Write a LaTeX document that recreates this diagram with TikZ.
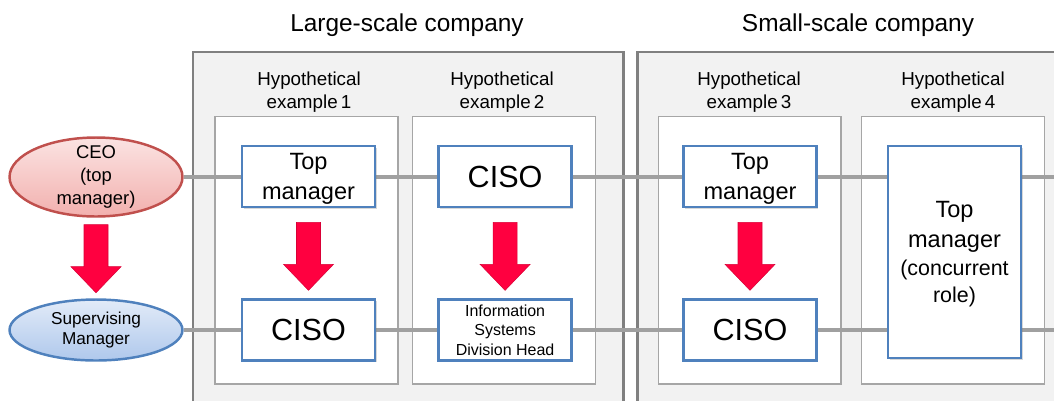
\documentclass[tikz,border=0pt]{standalone}
\usepackage{fontspec}
\setmainfont{Liberation Sans}
\usetikzlibrary{positioning,shapes.geometric,shadows,calc}

\definecolor{boxblue}{HTML}{4F81BD}
\definecolor{ceoedge}{HTML}{C0504D}
\definecolor{ceotop}{HTML}{FBE3E2}
\definecolor{ceobot}{HTML}{F2B0AE}
\definecolor{suptop}{HTML}{E2EBF8}
\definecolor{supbot}{HTML}{AFC8EC}
\definecolor{arrowred}{HTML}{FF0040}
\definecolor{railgray}{HTML}{A0A0A0}
\definecolor{panelfill}{HTML}{F2F2F2}
\definecolor{paneledge}{HTML}{808080}
\definecolor{exedge}{HTML}{A6A6A6}

\tikzset{
	rail/.style={draw=railgray, line width=2pt},
	panel/.style={draw=paneledge, line width=1.7pt, fill=panelfill},
	exbox/.style={draw=exedge, line width=0.6pt, fill=white,
		minimum width=3.66cm, minimum height=5.36cm},
	exlabel/.style={align=center, font=\fontsize{10.7}{13}\selectfont},
	company/.style={font=\fontsize{13.9}{16}\selectfont},
	role/.style={draw=boxblue, line width=1.5pt, fill=white, inner sep=0pt,
		minimum width=2.66cm, minimum height=1.22cm, align=center,
		text depth=0pt, font=\fontsize{13.4}{17}\selectfont,
		drop shadow={shadow xshift=1pt, shadow yshift=-1pt, opacity=0.3}},
	ciso/.style={role, font=\fontsize{17.4}{20}\selectfont},
	person/.style={ellipse, line width=1.4pt, inner xsep=0pt, inner ysep=-6pt,
		align=center, minimum width=3.46cm},
	bigarrow/.style={fill=arrowred, draw=arrowred!85!black, line width=0.3pt}
}

% block arrow pointing down, #1 = top middle of the shaft
\newcommand{\bigdown}[1]{\path[bigarrow] #1 ++(-12,0) -- ++(24,0) -- ++(0,42)
	-- ++(13,0) -- ++(-25,26) -- ++(-25,-26) -- ++(13,0) -- cycle;}

\begin{document}
\begin{tikzpicture}[x=0.02cm, y=-0.02cm]
	\useasboundingbox (0,0) rectangle (1054,400);
	\clip (0,0) rectangle (1054,400);

	% companies
	\draw [panel] (193,52) rectangle (623,420);
	\draw [panel] (637,52) rectangle (1070,420);
	\node [company] (large) at (407,25) {Large-scale company};
	\node [company] (small) at (858,25) {Small-scale company};

	% hypothetical examples
	\node [exbox] (ex1) at (306.5,250) {};
	\node [exbox] (ex2) at (504,250) {};
	\node [exbox] (ex3) at (749.5,250) {};
	\node [exbox] (ex4) at (953,250) {};
	\node [exlabel] (lab1) at (309,92) {Hypothetical\\example\,1};
	\node [exlabel] (lab2) at (502,92) {Hypothetical\\example\,2};
	\node [exlabel] (lab3) at (749,92) {Hypothetical\\example\,3};
	\node [exlabel] (lab4) at (953,92) {Hypothetical\\example\,4};

	% people on the left
	\node [person, draw=ceoedge, top color=ceotop, bottom color=ceobot,
		minimum height=1.58cm, font=\fontsize{10.5}{13.3}\selectfont]
		(ceo) at (96,177) {CEO\\(top\\manager)};
	\node [person, draw=boxblue, top color=suptop, bottom color=supbot,
		minimum height=1.22cm, font=\fontsize{9.8}{11.8}\selectfont]
		(sup) at (96,330) {Supervising\\Manager};

	% rails
	\coordinate (rightedge) at (1060,0);
	\draw [rail] (ceo.east) -- (ceo.east -| rightedge);
	\draw [rail] (sup.east) -- (sup.east -| rightedge);

	% roles
	\node [role] (tm1) at (308.5,176.5) {Top\\manager};
	\node [ciso, below=1.8cm of tm1] (ciso1) {CISO};
	\node [ciso, right=1.22cm of tm1] (ciso2) {CISO};
	\node [role, below=1.8cm of ciso2, font=\fontsize{9.1}{11.3}\selectfont]
		(isd2) {Information\\Systems\\Division Head};
	\node [role] (tm3) at (750,176.5) {Top\\manager};
	\node [ciso, below=1.8cm of tm3] (ciso3) {CISO};
	\node [role, minimum height=4.24cm] (tm4) at (954.5,252)
		{Top\\manager\\[-1pt]{\fontsize{12.2}{15}\selectfont(concurrent}\\[-1.5pt]{\fontsize{12.2}{15}\selectfont role)}};

	% who is in charge
	\bigdown{($(ceo.south)+(0,7)$)}
	\bigdown{($(tm1.south)+(0,14)$)}
	\bigdown{($(ciso2.south)+(0,14)$)}
	\bigdown{($(tm3.south)+(0,14)$)}
\end{tikzpicture}
\end{document}
